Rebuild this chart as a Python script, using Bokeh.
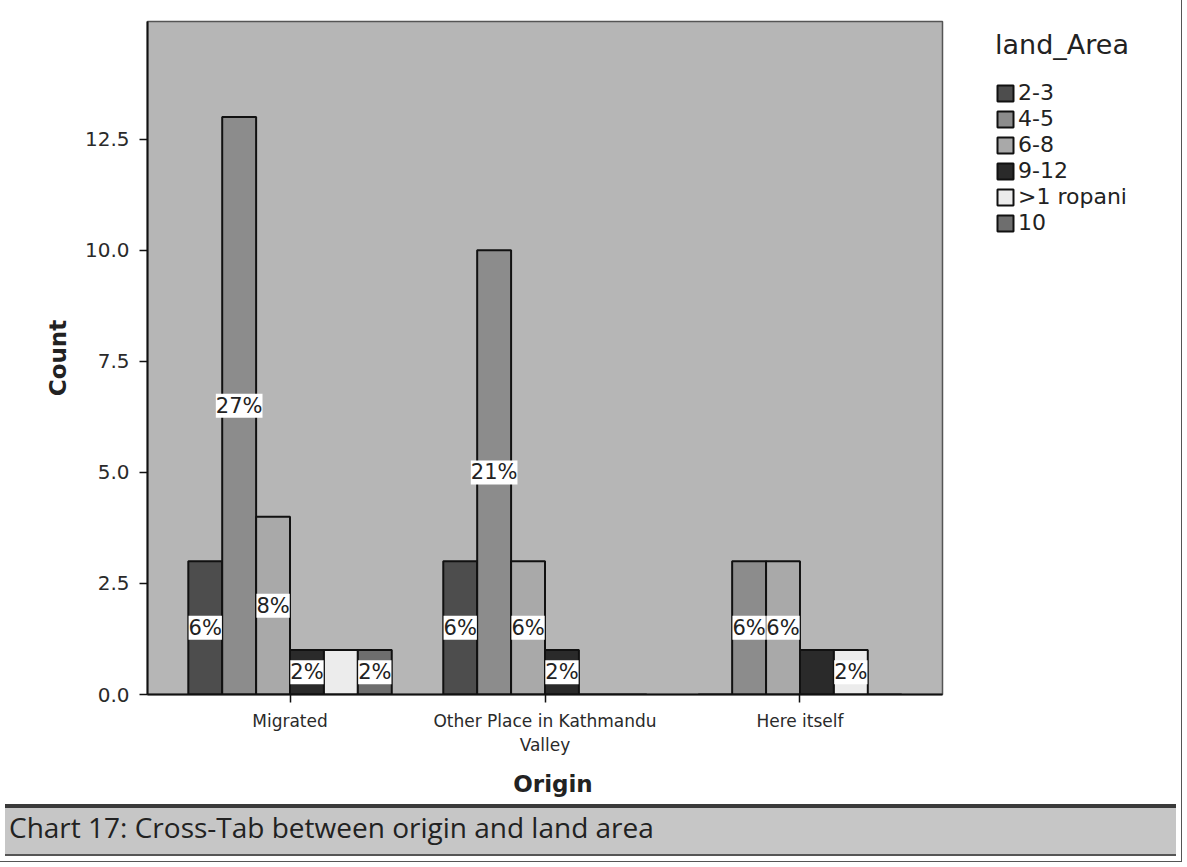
from bokeh.plotting import figure
from bokeh.models import (ColumnDataSource, FactorRange, Range1d, Legend, LegendItem,
                          LabelSet, PrintfTickFormatter, FixedTicker, Div)
from bokeh.core.properties import value
from bokeh.transform import dodge
from bokeh.layouts import column, row
from bokeh.embed import file_html
from bokeh.resources import INLINE

# ---------------- data ----------------
origins = ["Migrated", "Other Place in Kathmandu\nValley", "Here itself"]
land_areas = ["2-3", "4-5", "6-8", "9-12", ">1 ropani", "10"]
y_ticks = [0.0, 2.5, 5.0, 7.5, 10.0, 12.5]

count_2_3 = [3, 3, 0]
count_4_5 = [13, 10, 3]
count_6_8 = [4, 3, 3]
count_9_12 = [1, 1, 1]
count_gt1_ropani = [1, 0, 1]
count_10 = [1, 0, 0]

# which percentage labels are visible in the original chart
show_2_3 = [True, True, False]
show_4_5 = [True, True, True]
show_6_8 = [True, True, True]
show_9_12 = [True, True, False]
show_gt1_ropani = [False, False, True]
show_10 = [True, False, False]

series_counts = [count_2_3, count_4_5, count_6_8, count_9_12, count_gt1_ropani, count_10]
series_show = [show_2_3, show_4_5, show_6_8, show_9_12, show_gt1_ropani, show_10]
colors = ["#4d4d4d", "#8c8c8c", "#a9a9a9", "#2a2a2a", "#ececec", "#6e6e6e"]

total = sum(sum(c) for c in series_counts)

# ---------------- main figure ----------------
x_range = FactorRange(*origins, range_padding=0.059, range_padding_units="absolute")
p = figure(width=987, height=757, output_backend="svg", toolbar_location=None,
           x_range=x_range, y_range=Range1d(0, 15.15),
           min_border_left=147, min_border_right=45, min_border_top=21, min_border_bottom=58)
p.background_fill_color = "#b6b6b6"
p.border_fill_color = "white"
p.outline_line_color = "#555555"
p.outline_line_width = 1.5
p.grid.visible = False

# legend figure: hidden copies of the bars, only used to draw the legend
pl = figure(width=184, height=757, output_backend="svg", toolbar_location=None,
            x_range=x_range, y_range=Range1d(0, 15.15),
            x_axis_location=None, y_axis_location=None,
            min_border_left=0, min_border_right=0, min_border_top=21, min_border_bottom=58)
pl.outline_line_color = None
pl.grid.visible = False
pl.background_fill_color = "white"
pl.border_fill_color = "white"

bar_w = 0.133
items = []
for i, (name, counts, show, col) in enumerate(zip(land_areas, series_counts, series_show, colors)):
    off = (i - 2.5) * bar_w
    src = ColumnDataSource(dict(
        x=origins, top=counts, mid=[c / 2 for c in counts],
        lab=[("%d%%" % round(100 * c / total)) if s else "" for c, s in zip(counts, show)]))
    p.vbar(x=dodge("x", off, range=x_range), top="top", width=bar_w, source=src,
           fill_color=col, line_color="#111111", line_width=2)
    ls = LabelSet(x=dodge("x", off, range=x_range), y="mid", text="lab", source=src,
                  text_align="center", text_baseline="middle",
                  text_font=value("DejaVu Sans"),
                  text_font_size="21px", text_color="#222222",
                  background_fill_color="white", background_fill_alpha=1.0)
    p.add_layout(ls)
    rl = pl.vbar(x=dodge("x", off, range=x_range), top="top", width=bar_w, source=src,
                 fill_color=col, line_color="#111111", line_width=2)
    rl.visible = False
    items.append(LegendItem(label=name, renderers=[rl]))

# axes
p.yaxis.ticker = FixedTicker(ticks=y_ticks)
p.yaxis.formatter = PrintfTickFormatter(format="%.1f")
for ax in (p.xaxis, p.yaxis):
    ax.axis_line_color = "#111111"
    ax.axis_line_width = 2
    ax.major_tick_line_color = "#111111"
    ax.major_tick_line_width = 1.5
    ax.major_tick_in = 0
    ax.major_tick_out = 8
    ax.minor_tick_line_color = None
    ax.major_label_text_font = "DejaVu Sans"
    ax.major_label_text_color = "#2a2a2a"
    ax.axis_label_text_font = "DejaVu Sans"
    ax.axis_label_text_font_style = "bold"
    ax.axis_label_text_font_size = "23px"
    ax.axis_label_text_color = "#222222"
p.xaxis.major_label_text_font_size = "17px"
p.yaxis.major_label_text_font_size = "20px"
p.xaxis.group_text_font_size = "0px"
p.xaxis.major_label_orientation = "horizontal"
p.yaxis.axis_label = "Count"
p.yaxis.axis_label_standoff = 11
p.yaxis.major_label_standoff = 10
p.xaxis.major_label_standoff = 8

legend = Legend(items=items, title="land_Area", location="top_left",
                title_text_font="DejaVu Sans", title_text_font_size="27px",
                title_text_font_style="normal", title_text_color="#222222",
                label_text_font="DejaVu Sans", label_text_font_size="22px",
                label_text_color="#222222",
                glyph_width=20, glyph_height=20, label_height=20, spacing=1,
                padding=0, margin=8, title_standoff=20, label_standoff=3,
                inactive_fill_alpha=0,
                border_line_alpha=0, background_fill_alpha=0)
pl.add_layout(legend)

bottom = Div(width=1171, height=94, text=(
    '<div style="position:relative;width:1171px;height:94px;">'
    '<div style="position:absolute;left:440px;top:8px;width:216px;text-align:center;'
    "font-family:'DejaVu Sans';font-weight:bold;font-size:23px;line-height:28px;color:#222;\">"
    'Origin</div>'
    '<div style="position:absolute;left:0;top:42px;width:1171px;height:52px;box-sizing:border-box;'
    'background:#c6c6c6;border-top:4px solid #3a3a3a;border-bottom:2px solid #555;'
    "font-family:'Open Sans';font-size:28px;line-height:38px;padding-left:4px;color:#222;\">"
    'Chart 17: Cross-Tab between origin and land area</div>'
    '</div>'))

layout = column(row(p, pl, spacing=0), bottom, spacing=0, styles={"outline": "1px solid #555"})

open("out.html", "w").write(file_html(layout, INLINE))
